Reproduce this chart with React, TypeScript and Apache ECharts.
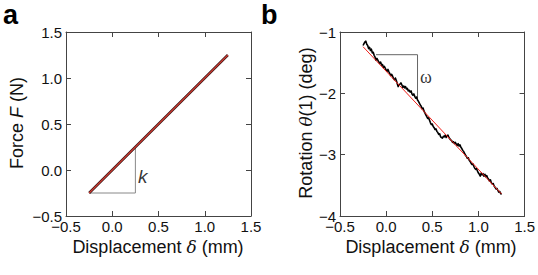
import React, { useEffect, useRef } from "react";
import * as echarts from "echarts";

// Panel a: force vs displacement
const forceX = [-0.25, 0.25, 0.75, 1.25];
const forceY = [-0.25, 0.25, 0.75, 1.25];
const kTriX = [-0.25, 0.25, 0.25];
const kTriY = [-0.25, -0.25, 0.25];
const kLabel = { x: 0.33, y: -0.07, text: "k" };

// Panel b: rotation vs displacement (measured, noisy)
const rotX = [
  -0.25, -0.24, -0.23, -0.22, -0.21, -0.2, -0.19, -0.18, -0.17, -0.16, -0.15, -0.14, -0.13, -0.12, -0.11,
  -0.1, -0.09, -0.08, -0.07, -0.06, -0.05, -0.04, -0.03, -0.02, -0.01, 0.0, 0.01, 0.02, 0.03, 0.04,
  0.05, 0.06, 0.07, 0.08, 0.09, 0.1, 0.11, 0.12, 0.13, 0.14, 0.15, 0.16, 0.17, 0.18, 0.19,
  0.2, 0.21, 0.22, 0.23, 0.24, 0.25, 0.26, 0.27, 0.28, 0.29, 0.3, 0.31, 0.32, 0.33, 0.34,
  0.35, 0.36, 0.37, 0.38, 0.39, 0.4, 0.41, 0.42, 0.43, 0.44, 0.45, 0.46, 0.47, 0.48, 0.49,
  0.5, 0.51, 0.52, 0.53, 0.54, 0.55, 0.56, 0.57, 0.58, 0.59, 0.6, 0.61, 0.62, 0.63, 0.64,
  0.65, 0.66, 0.67, 0.68, 0.69, 0.7, 0.71, 0.72, 0.73, 0.74, 0.75, 0.76, 0.77, 0.78, 0.79,
  0.8, 0.81, 0.82, 0.83, 0.84, 0.85, 0.86, 0.87, 0.88, 0.89, 0.9, 0.91, 0.92, 0.93, 0.94,
  0.95, 0.96, 0.97, 0.98, 0.99, 1.0, 1.01, 1.02, 1.03, 1.04, 1.05, 1.06, 1.07, 1.08, 1.09,
  1.1, 1.11, 1.12, 1.13, 1.14, 1.15, 1.16, 1.17, 1.18, 1.19, 1.2, 1.21, 1.22, 1.23, 1.24, 1.25,
];
const rotY = [
  -1.22, -1.19, -1.16, -1.15, -1.2, -1.22, -1.27, -1.25, -1.3, -1.28, -1.34, -1.33, -1.38, -1.41, -1.46,
  -1.43, -1.46, -1.49, -1.51, -1.49, -1.54, -1.53, -1.58, -1.56, -1.59, -1.62, -1.64, -1.61, -1.65, -1.68,
  -1.71, -1.69, -1.72, -1.76, -1.78, -1.75, -1.79, -1.84, -1.89, -1.86, -1.85, -1.83, -1.86, -1.9, -1.88,
  -1.91, -1.89, -1.93, -1.92, -1.96, -1.95, -1.98, -1.96, -2.01, -2.03, -2.01, -2.05, -2.08, -2.06, -2.11,
  -2.13, -2.16, -2.19, -2.21, -2.25, -2.24, -2.29, -2.32, -2.35, -2.38, -2.41, -2.4, -2.44, -2.48, -2.51,
  -2.5, -2.54, -2.56, -2.59, -2.58, -2.62, -2.64, -2.67, -2.66, -2.71, -2.72, -2.73, -2.7, -2.71, -2.68,
  -2.72, -2.7, -2.68, -2.72, -2.74, -2.76, -2.77, -2.8, -2.79, -2.82, -2.8, -2.83, -2.85, -2.82, -2.86,
  -2.84, -2.88, -2.9, -2.93, -2.95, -2.98, -3.01, -3.03, -3.06, -3.05, -3.09, -3.11, -3.14, -3.16, -3.15,
  -3.19, -3.22, -3.24, -3.23, -3.27, -3.3, -3.32, -3.35, -3.3, -3.33, -3.31, -3.35, -3.32, -3.36, -3.34,
  -3.38, -3.4, -3.43, -3.41, -3.46, -3.48, -3.47, -3.51, -3.53, -3.56, -3.55, -3.58, -3.61, -3.6, -3.63, -3.65,
];
const fitX = [-0.25, 1.25];
const fitY = [-1.24, -3.64];
const wTriX = [-0.11, 0.34, 0.34];
const wTriY = [-1.37, -1.37, -2.08];
const wLabel = { x: 0.43, y: -1.74, text: "ω" };

const xTickLabelsMin = -0.5;
const xTickLabelsMax = 1.5;
const aYMin = -0.5;
const aYMax = 1.5;
const bYMin = -4;
const bYMax = -1;

const zip = (xs: number[], ys: number[]) => xs.map((x, i) => [x, ys[i]]);
const SANS = '"Liberation Sans", Arial, Helvetica, sans-serif';
const SERIF = '"DejaVu Serif", "Liberation Serif", serif';
const minus = (s: string) => s.replace("-", "\u2212");
const fmt1 = (v: number) => minus((Math.abs(v) < 1e-9 ? 0 : v).toFixed(1));
const fmt0 = (v: number) => minus(v.toFixed(0));

const AXIS_COLOR = "#444";
const CLEAR = "rgba(0,0,0,0)";

function axisPair(gridIndex: number, min: number, max: number, interval: number, fmt: (v: number) => string, isX: boolean) {
  const common = {
    gridIndex,
    type: "value" as const,
    min,
    max,
    interval,
    splitLine: { show: false },
    axisLine: { show: true, onZero: false, lineStyle: { color: AXIS_COLOR, width: 1 } },
    axisTick: { show: true, inside: true, length: 5, lineStyle: { color: AXIS_COLOR, width: 1 } },
  };
  return [
    {
      ...common,
      position: isX ? "bottom" : "left",
      axisLabel: {
        show: true,
        formatter: fmt,
        margin: isX ? 3 : 4,
        color: "#111",
        fontSize: 15,
        fontFamily: SANS,
        showMinLabel: true,
        showMaxLabel: true,
      },
    },
    {
      ...common,
      position: isX ? "top" : "right",
      axisLabel: { show: false },
    },
  ];
}

function textMark(gi: number, x: number, y: number, text: string, label: object) {
  return {
    type: "scatter",
    xAxisIndex: gi,
    yAxisIndex: gi,
    data: [[x, y]],
    symbolSize: 2,
    silent: true,
    itemStyle: { color: CLEAR },
    label: {
      show: true,
      position: [1, 1],
      align: "center",
      verticalAlign: "middle",
      formatter: text,
      color: "#000",
      textBorderWidth: 0,
      ...label,
    },
  };
}

export default function App() {
  const ref = useRef<HTMLDivElement>(null);
  useEffect(() => {
    if (!ref.current) return;
    const chart = echarts.init(ref.current, undefined, { renderer: "svg" });
    const xAxes = [
      ...axisPair(0, xTickLabelsMin, xTickLabelsMax, 0.5, fmt1, true),
      ...axisPair(1, xTickLabelsMin, xTickLabelsMax, 0.5, fmt1, true),
    ];
    const yAxes = [
      ...axisPair(0, aYMin, aYMax, 0.5, fmt1, false),
      ...axisPair(1, bYMin, bYMax, 1, fmt0, false),
    ];
    const titleStyle = { fontSize: 18, fontFamily: SANS, fill: "#111" };
    chart.setOption({
      animation: false,
      backgroundColor: "#fff",
      grid: [
        { left: 66, top: 32, width: 185, height: 184 },
        { left: 340, top: 32, width: 186, height: 184 },
      ],
      xAxis: xAxes,
      yAxis: yAxes,
      series: [
        {
          type: "line",
          xAxisIndex: 0,
          yAxisIndex: 0,
          data: zip(kTriX, kTriY),
          symbol: "none",
          lineStyle: { color: "#888", width: 1 },
        },
        {
          type: "line",
          xAxisIndex: 0,
          yAxisIndex: 0,
          data: zip(forceX, forceY),
          symbol: "none",
          lineStyle: { color: "#3a1a1a", width: 2.6 },
        },
        {
          type: "line",
          xAxisIndex: 0,
          yAxisIndex: 0,
          data: zip(forceX, forceY),
          symbol: "none",
          lineStyle: { color: "#d03a30", width: 1.1 },
        },
        textMark(0, kLabel.x, kLabel.y, kLabel.text, {
          fontSize: 19,
          fontStyle: "italic",
          fontFamily: SANS,
        }),
        {
          type: "line",
          xAxisIndex: 2,
          yAxisIndex: 2,
          data: zip(wTriX, wTriY),
          symbol: "none",
          lineStyle: { color: "#666", width: 1 },
        },
        {
          type: "line",
          xAxisIndex: 2,
          yAxisIndex: 2,
          data: zip(rotX, rotY),
          symbol: "none",
          lineStyle: { color: "#000", width: 1.6, join: "round" },
        },
        {
          type: "line",
          xAxisIndex: 2,
          yAxisIndex: 2,
          data: zip(fitX, fitY),
          symbol: "none",
          lineStyle: { color: "#f0201a", width: 1 },
        },
        textMark(2, wLabel.x, wLabel.y, wLabel.text, {
          fontSize: 18,
          fontFamily: '"Liberation Serif", "DejaVu Serif", serif',
        }),
      ],
      graphic: [
        {
          type: "text",
          x: 3,
          y: 1,
          style: { text: "a", font: `bold 27px ${SANS}`, fill: "#000", textVerticalAlign: "top" },
        },
        {
          type: "text",
          x: 261,
          y: 1,
          style: { text: "b", font: `bold 27px ${SANS}`, fill: "#000", textVerticalAlign: "top" },
        },
        {
          type: "text",
          x: 17,
          y: 123,
          rotation: Math.PI / 2,
          style: {
            text: "Force {i|F} (N)",
            ...titleStyle,
            align: "center",
            verticalAlign: "middle",
            rich: { i: { fontSize: 18, fontFamily: SANS, fontStyle: "italic", fill: "#111" } },
          },
        },
        {
          type: "text",
          x: 158,
          y: 247,
          style: {
            text: "Displacement {d|δ} (mm)",
            ...titleStyle,
            align: "center",
            verticalAlign: "middle",
            rich: { d: { fontSize: 17, fontFamily: SERIF, fontStyle: "italic", fill: "#111" } },
          },
        },
        {
          type: "text",
          x: 306,
          y: 123,
          rotation: Math.PI / 2,
          style: {
            text: "Rotation {t|θ}(1) (deg)",
            ...titleStyle,
            align: "center",
            verticalAlign: "middle",
            rich: { t: { fontSize: 17, fontFamily: SERIF, fontStyle: "italic", fill: "#111" } },
          },
        },
        {
          type: "text",
          x: 431,
          y: 247,
          style: {
            text: "Displacement {d|δ} (mm)",
            ...titleStyle,
            align: "center",
            verticalAlign: "middle",
            rich: { d: { fontSize: 17, fontFamily: SERIF, fontStyle: "italic", fill: "#111" } },
          },
        },
      ],
    });
    return () => chart.dispose();
  }, []);
  return (
    <div
      ref={ref}
      style={{ position: "absolute", left: 0, top: 0, width: 538, height: 275 }}
    />
  );
}
